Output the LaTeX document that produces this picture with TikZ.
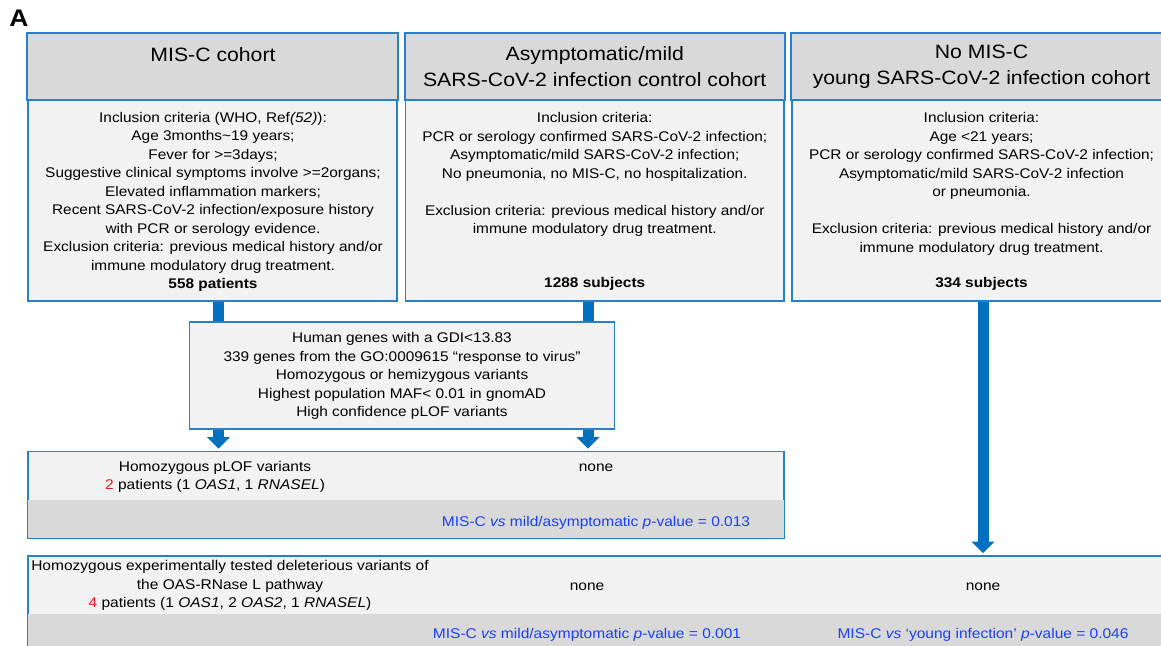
\documentclass[tikz,border=0pt]{standalone}
\usepackage{fontspec}
\setmainfont{Liberation Sans}[FakeStretch=1.1]
\usetikzlibrary{arrows.meta,calc}
\definecolor{bord}{RGB}{38,128,204}
\definecolor{arr}{RGB}{0,112,192}
\definecolor{hdr}{RGB}{217,217,217}
\definecolor{bodyc}{RGB}{242,242,242}
\definecolor{pblue}{RGB}{25,65,245}
\definecolor{nred}{RGB}{235,25,25}
\begin{document}
\begin{tikzpicture}[x=1pt,y=-1pt,
 box/.style={draw=bord, line width=1.6pt, fill=bodyc, rectangle, inner sep=0pt},
 hdrbar/.style={draw=bord, line width=1.6pt, fill=hdr},
 hdrtxt/.style={font=\fontsize{19.3}{26}\selectfont, align=center, inner sep=0pt},
 bodytxt/.style={font=\fontsize{14}{18.5}\selectfont, align=center, inner sep=0pt},
 rowtxt/.style={font=\fontsize{14.1}{18.5}\selectfont, align=center, inner sep=0pt},
 ptxt/.style={rowtxt, text=pblue},
 fat/.style={draw=arr, line width=11pt},
 fatarrow/.style={fat, -{Triangle[width=23pt,length=11.5pt,line width=0pt]}},
]
\useasboundingbox (0,0) rectangle (1161,645);

% cohort boxes
\node[box, minimum width=369pt, minimum height=267pt] (c1) at (212.5,167.5) {};
\draw[hdrbar] (c1.north west) rectangle ($(c1.north east)+(0,67)$);
\node[box, minimum width=378.5pt, minimum height=267pt] (c2) at (594.75,167.5) {};
\draw[hdrbar] (c2.north west) rectangle ($(c2.north east)+(0,67)$);
\node[box, minimum width=379pt, minimum height=267pt] (c3) at (981.5,167.5) {};
\draw[hdrbar] (c3.north west) rectangle ($(c3.north east)+(0,67)$);

% filter box
\node[box, minimum width=425pt, minimum height=107pt] (mid) at (402,375.5) {};

% result boxes
\node[box, minimum width=756pt, minimum height=86.5pt] (r1) at (406,494.75) {};
\fill[hdr] ($(r1.south west)+(0.8,-39)$) rectangle ($(r1.south east)+(-0.8,-0.8)$);
\node[box, minimum width=1143pt, minimum height=124pt] (r2) at (599.5,618) {};
\fill[hdr] ($(r2.north west)+(0.8,59)$) rectangle ($(r2.south east)+(-0.8,-0.8)$);

% label
\node[font=\fontsize{24}{24}\selectfont\bfseries, inner sep=0pt] (lblA) at (19,18.5) {A};

% headers
\node[hdrtxt] (h1) at (213,55) {MIS-C cohort};
\node[hdrtxt] (h2) at (594.75,67) {Asymptomatic/mild\\SARS-CoV-2 infection control cohort};
\node[hdrtxt] (h3) at (981.5,67) {No MIS-C\\young SARS-CoV-2 infection cohort};

% bodies
\node[bodytxt] (b1) at (213,202) {Inclusion criteria (WHO, Ref\textit{(52)}):\\
Age 3months\textasciitilde19 years;\\
Fever for >=3days;\\
Suggestive clinical symptoms involve >=2organs;\\
Elevated inflammation markers;\\
Recent SARS-CoV-2 infection/exposure history\\
with PCR or serology evidence.\\
Exclusion criteria: previous medical history and/or\\
immune modulatory drug treatment.\\
\textbf{558 patients}};
\node[bodytxt] (b2) at (594.75,174.5) {Inclusion criteria:\\
PCR or serology confirmed SARS-CoV-2 infection;\\
Asymptomatic/mild SARS-CoV-2 infection;\\
No pneumonia, no MIS-C, no hospitalization.\\[18.5pt]
Exclusion criteria: previous medical history and/or\\
immune modulatory drug treatment.};
\node[bodytxt, font=\fontsize{14}{18.5}\selectfont\bfseries] (n2) at (594.75,284) {1288 subjects};
\node[bodytxt] (b3) at (981.5,183.75) {Inclusion criteria:\\
Age <21 years;\\
PCR or serology confirmed SARS-CoV-2 infection;\\
Asymptomatic/mild SARS-CoV-2 infection\\
or pneumonia.\\[18.5pt]
Exclusion criteria: previous medical history and/or\\
immune modulatory drug treatment.};
\node[bodytxt, font=\fontsize{14}{18.5}\selectfont\bfseries] (n3) at (981.5,284) {334 subjects};

% filter text
\node[bodytxt] (mt) at (402,376) {Human genes with a GDI<13.83\\
339 genes from the GO:0009615 “response to virus”\\
Homozygous or hemizygous variants\\
Highest population MAF< 0.01 in gnomAD\\
High confidence pLOF variants};

% result row 1
\node[rowtxt] (r1a) at (215,477) {Homozygous pLOF variants\\
{\color{nred}2} patients (1 \textit{OAS1}, 1 \textit{RNASEL})};
\node[rowtxt] (r1b) at (596,468) {none};
\node[ptxt] (r1p) at (596,523) {MIS-C \textit{vs} mild/asymptomatic \textit{p}-value = 0.013};

% result row 2
\node[rowtxt] (r2a) at (230,585.5) {Homozygous experimentally tested deleterious variants of\\
the OAS-RNase L pathway\\
{\color{nred}4} patients (1 \textit{OAS1}, 2 \textit{OAS2}, 1 \textit{RNASEL})};
\node[rowtxt] (r2b) at (587,587) {none};
\node[rowtxt] (r2c) at (983,587) {none};
\node[ptxt] (r2p) at (587,635) {MIS-C \textit{vs} mild/asymptomatic \textit{p}-value = 0.001};
\node[ptxt] (r2q) at (983,635) {MIS-C \textit{vs} ‘young infection’ \textit{p}-value = 0.046};

% arrows
\coordinate (xa) at (218.5,0);
\coordinate (xb) at (588,0);
\coordinate (xc) at (983,0);
\draw[fat] (c1.south -| xa) -- (mid.north -| xa);
\draw[fatarrow] (mid.south -| xa) -- ($(r1.north -| xa)+(0,-2)$);
\draw[fat] (c2.south -| xb) -- (mid.north -| xb);
\draw[fatarrow] (mid.south -| xb) -- ($(r1.north -| xb)+(0,-2)$);
\draw[fatarrow] (c3.south -| xc) -- ($(r2.north -| xc)+(0,-2)$);
\end{tikzpicture}
\end{document}
